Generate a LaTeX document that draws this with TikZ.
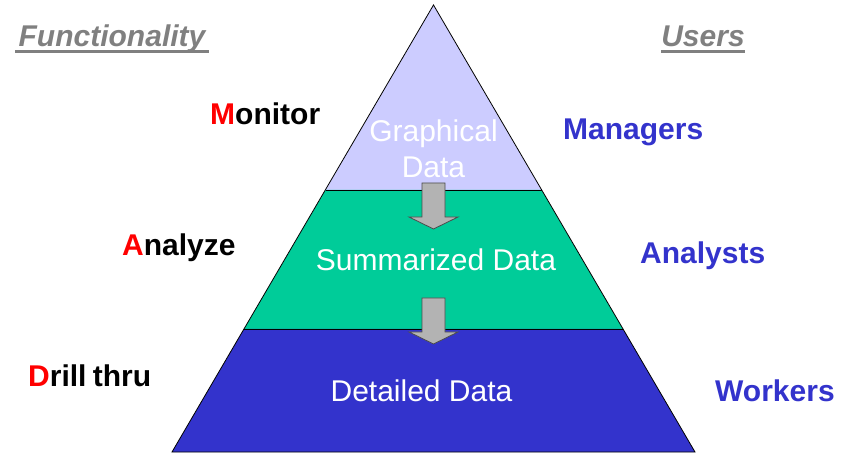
\documentclass[tikz,border=0pt]{standalone}
\usepackage{fontspec}
\setmainfont{Liberation Sans}
\definecolor{lav}{RGB}{204,204,255}
\definecolor{grn}{RGB}{0,204,153}
\definecolor{blu}{RGB}{51,51,204}
\definecolor{hdr}{RGB}{128,128,128}
\definecolor{arr}{RGB}{179,179,179}
\definecolor{redl}{RGB}{255,0,0}
\begin{document}
\begin{tikzpicture}[x=1pt,y=-1pt,
  big/.style={font=\fontsize{30}{34}\selectfont, inner sep=0pt},
  band/.style={draw=black, line width=0.8pt, line join=miter},
  inner/.style={big, text=white, anchor=base},
  func/.style={big, font=\fontsize{30}{34}\selectfont\bfseries, anchor=base west},
  user/.style={big, font=\fontsize{30}{34}\selectfont\bfseries, text=blu, anchor=base west},
  head/.style={big, font=\fontsize{30}{34}\selectfont\bfseries\itshape, text=hdr, anchor=base},
  downarrow/.style={fill=arr, draw=black!70, line width=0.8pt}]
\useasboundingbox (0,0) rectangle (849,454);
% pyramid bands
\coordinate (apex) at (433.5,5);
\coordinate (bl) at (172,452);
\coordinate (br) at (695,452);
\fill[lav] (apex) -- (325.5,190) -- (541.5,190) -- cycle;
\fill[grn] (325.5,190) -- (244,329) -- (623,329) -- (541.5,190) -- cycle;
\fill[blu] (244,329) -- (bl) -- (br) -- (623,329) -- cycle;
\draw[band] (325.5,190) -- (541.5,190);
\draw[band] (244,329) -- (623,329);
\draw[band] (apex) -- (bl) -- (br) -- cycle;
% arrows
\draw[downarrow] (422,183) -- (445,183) -- (445,217) -- (458,217) -- (433.5,229) -- (409,217) -- (422,217) -- cycle;
\draw[downarrow] (422,298) -- (445,298) -- (445,332) -- (458,332) -- (433.5,344) -- (409,332) -- (422,332) -- cycle;
% inner texts
\node[inner] (g1) at (433.5,142) {Graphical};
\node[inner] (g2) at (433.5,178) {Data};
\node[inner] (sum) at (436,271) {Summarized Data};
\node[inner] (det) at (421.5,402) {Detailed Data};
% headers
\node[head] (fn) at (112,47) {Functionality};
\node[head] (us) at (703,47) {Users};
\draw[hdr, line width=3.5pt] (15,51.5) -- (209,51.5);
\draw[hdr, line width=3.5pt] (661,51.5) -- (745,51.5);
% functionality labels
\node[func] (mon) at (210,125) {\textcolor{redl}{M}onitor};
\node[func] (ana) at (122,256) {\textcolor{redl}{A}nalyze};
\node[func] (dri) at (28,387) {\textcolor{redl}{D}rill\hspace{-2pt} thru};
% user labels
\node[user] (man) at (563,140) {Managers};
\node[user] (anl) at (640,264) {Analysts};
\node[user] (wor) at (715,402) {Workers};
\end{tikzpicture}
\end{document}
